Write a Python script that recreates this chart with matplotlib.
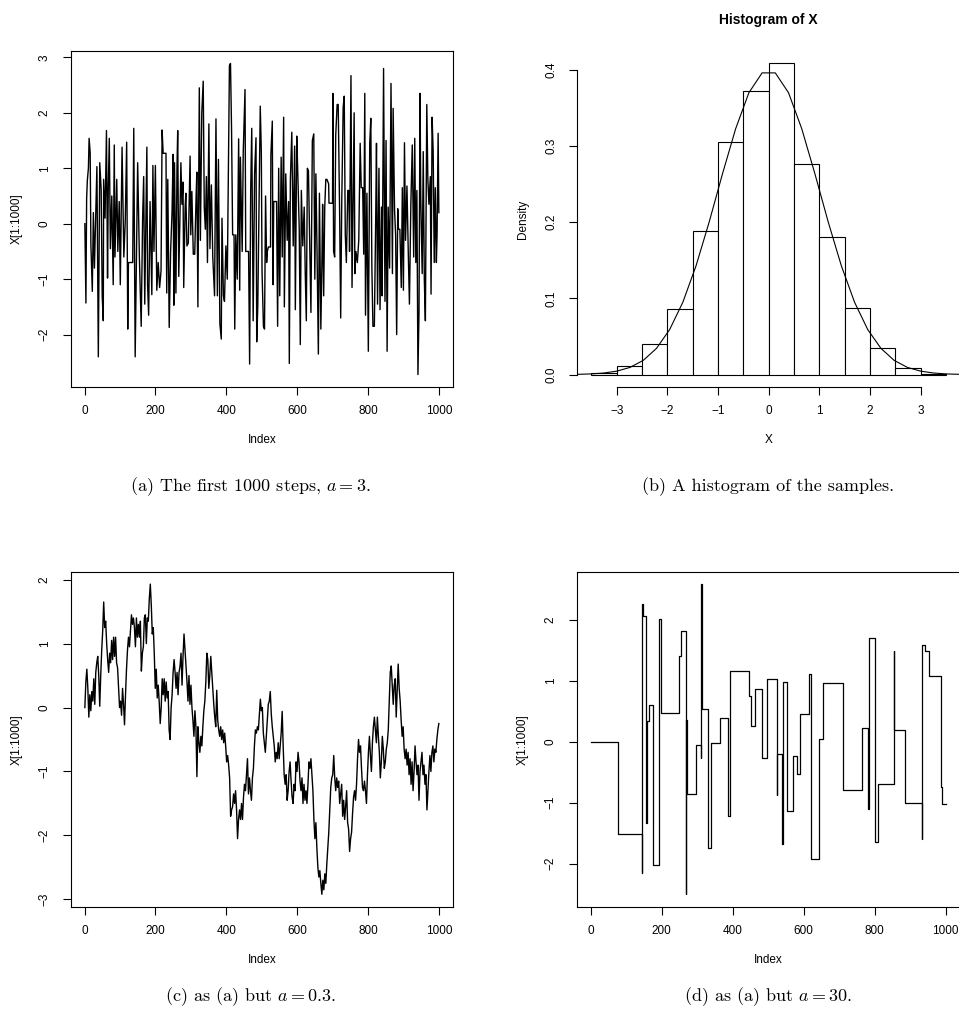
import numpy as np
import matplotlib
matplotlib.use("Agg")
import matplotlib.pyplot as plt

plt.rcParams["font.family"] = ["Liberation Sans", "DejaVu Sans"]
plt.rcParams["mathtext.fontset"] = "cm"

# ---- (a) chain with a = 3: index / value
a_index = [1, 4, 6, 8, 11, 13, 16, 18, 22, 25, 28, 35, 38, 39, 43, 47, 50, 53, 54, 58,
           62, 65, 67, 70, 73, 77, 81, 84, 86, 91, 94, 98, 101, 106, 111, 115, 119, 122, 124, 136,
           139, 143, 147, 150, 155, 160, 164, 167, 170, 176, 178, 181, 185, 190, 193, 196, 200, 204, 208, 212,
           216, 219, 222, 230, 232, 235, 239, 243, 247, 250, 252, 254, 258, 261, 263, 266, 269, 272, 275, 278,
           280, 284, 286, 289, 293, 298, 300, 303, 307, 311, 315, 317, 320, 324, 327, 329, 331, 335, 338, 341,
           344, 347, 351, 354, 358, 362, 367, 371, 375, 378, 382, 386, 388, 392, 395, 399, 403, 407, 409, 412,
           415, 418, 422, 424, 427, 431, 435, 438, 440, 445, 448, 453, 455, 463, 466, 469, 472, 476, 480, 484,
           486, 489, 493, 496, 499, 501, 505, 508, 511, 514, 516, 519, 525, 526, 530, 532, 534, 542, 545, 548,
           551, 555, 558, 562, 564, 568, 572, 576, 578, 581, 585, 589, 593, 595, 599, 602, 606, 609, 612, 616,
           620, 623, 626, 629, 632, 636, 639, 643, 647, 650, 653, 656, 660, 663, 667, 670, 672, 675, 678, 681,
           684, 689, 690, 700, 701, 703, 706, 709, 713, 716, 720, 723, 726, 730, 733, 736, 739, 743, 746, 748,
           752, 755, 758, 761, 763, 766, 770, 774, 778, 781, 785, 788, 791, 793, 797, 801, 805, 808, 811, 814,
           818, 822, 824, 827, 831, 834, 838, 840, 844, 848, 851, 854, 857, 861, 865, 869, 871, 875, 878, 881,
           884, 886, 890, 894, 897, 900, 903, 906, 910, 914, 917, 921, 925, 929, 932, 935, 938, 941, 944, 947,
           949, 953, 956, 959, 962, 966, 969, 972, 976, 978, 981, 984, 987, 990, 993, 995, 998, 1000]
a_value = [0.0, -1.43, 0.45, 0.78, 1.0, 1.54, 1.28, -0.37, -1.22, 0.2, -0.8, 1.03, -1.5, -2.4, 1.1, 0.62, -1.32, -1.75, 0.8, 0.1,
           1.68, -0.98, 0.6, 1.54, -0.45, 0.5, -1.1, 1.42, -0.6, 0.8, -0.5, 0.4, -1.1, 1.38, -0.6, 0.05, 1.47, -1.9, -0.7, -0.7,
           1.72, -2.4, -0.45, 1.1, -0.65, -1.85, 0.1, 0.85, -1.45, 1.38, -1.1, -1.65, 0.4, -1.28, 1.05, -0.5, 1.05, -1.2, -0.7, -1.15,
           -0.85, 1.69, 1.27, 1.27, -1.25, 0.8, -1.87, -0.5, 0.2, 1.25, -1.47, 1.1, -1.25, 1.0, 1.68, -0.95, 0.0, 1.1, 0.35, 0.75,
           -1.15, 0.3, 0.55, -0.4, -0.35, 1.22, -0.2, 0.58, -0.55, -0.55, 0.5, 0.93, -1.5, 2.45, -0.3, 0.9, 2.0, 2.57, 0.3, -0.1,
           0.85, -0.7, 1.8, -0.45, 0.7, -0.6, -1.3, 1.89, -1.3, 1.16, -1.8, -2.08, 0.1, -1.3, -1.4, -0.4, -1.0, 1.5, 2.85, 2.89,
           1.7, -0.2, -0.2, -1.9, -0.2, -1.0, 1.53, -1.2, 1.2, -0.5, 1.3, 2.42, -0.5, -0.5, -2.53, 0.6, 1.72, -1.75, 0.9, 1.55,
           -2.13, -1.5, 0.5, 2.12, 1.3, -0.85, -1.85, -1.9, 0.5, -0.7, -0.5, -0.42, -0.42, 1.24, 1.85, -1.1, 0.4, 0.4, -1.85, 1.0,
           -1.3, 1.2, -0.6, 1.92, -1.5, 0.9, -0.3, 0.4, -2.52, 0.8, 1.65, -0.4, 1.4, -1.55, 1.58, 0.9, -0.1, -2.18, 0.6, -0.4,
           0.3, -0.9, -1.75, 1.0, 0.95, -0.55, -1.6, 1.5, 1.62, -1.0, 0.9, -0.4, -2.35, 0.55, -1.9, -0.7, 0.35, -1.3, 0.3, 0.8,
           0.8, 0.72, 0.37, 0.37, 2.35, -0.5, -0.6, 1.6, 2.15, 2.15, 0.2, -1.7, 0.4, 2.1, 2.3, -0.2, -0.7, 0.6, 0.6, -0.5,
           2.67, -1.15, 0.4, 2.0, -0.9, -0.5, -0.7, -0.3, 1.45, 0.65, 0.65, -0.55, 2.35, -1.65, 0.55, -2.3, 1.45, 1.9, -0.8, -1.85,
           -1.85, 0.2, 1.45, -1.45, 1.0, -1.55, 0.3, -1.3, 2.8, -1.4, 1.5, -2.3, 0.3, -0.8, 2.53, -0.9, 2.08, 0.25, -0.2, -2.0,
           0.27, -0.1, -0.1, -1.15, 0.65, -1.2, 1.46, -0.3, 0.68, -0.6, -1.45, 0.35, 1.42, -0.6, 1.54, -0.7, 0.6, -2.72, -1.6, 2.35,
           0.45, -0.9, 1.3, -1.0, -1.75, 2.15, 0.8, 0.35, 0.85, -1.27, 1.92, 1.3, -0.7, 0.65, -0.7, -0.2, 1.63, 0.2]

# ---- (b) histogram of the samples
hist_edges = [-3.5, -3.0, -2.5, -2.0, -1.5, -1.0, -0.5, 0.0, 0.5, 1.0, 1.5, 2.0, 2.5, 3.0, 3.5]
hist_density = [0.0022, 0.0109, 0.0407, 0.0858, 0.1877, 0.305, 0.3724,
                0.408, 0.2757, 0.1807, 0.0875, 0.035, 0.0092, 0.0013]
curve_y = [0.0003, 0.0008, 0.0020, 0.0045, 0.0094, 0.0186, 0.0343, 0.0590, 0.0949, 0.1427,
           0.2005, 0.2632, 0.3225, 0.3696, 0.3956, 0.3956, 0.3696, 0.3225, 0.2632, 0.2005,
           0.1427, 0.0949, 0.0590, 0.0343, 0.0186, 0.0094, 0.0045, 0.0020, 0.0008, 0.0003]

# ---- (c) chain with a = 0.3
c_value = [0.0, 0.4, 0.6, 0.3, -0.15, 0.2, -0.05, 0.25, 0.1, 0.45, 0.05, 0.55, 0.7, 0.8, 0.5, 0.02, 0.5, 0.9, 1.2, 1.65,
           1.25, 1.35, 1.0, 0.75, 0.55, 0.85, 0.7, 1.05, 0.75, 1.1, 0.8, 1.1, 0.7, 0.62, 0.3, 0.0, 0.1, -0.12, 0.3, 0.05,
           -0.27, 0.2, 0.6, 0.9, 1.1, 0.95, 1.2, 1.45, 1.3, 1.4, 1.25, 0.95, 1.4, 1.1, 1.3, 1.1, 1.35, 0.57, 0.85, 0.95,
           1.4, 1.45, 1.0, 1.4, 1.35, 1.7, 1.93, 1.6, 1.15, 1.25, 0.85, 0.3, 0.6, 0.15, 0.35, 0.08, -0.25, 0.0, 0.45, 0.2,
           0.45, 0.1, 0.4, 0.15, 0.25, -0.35, -0.5, 0.0, 0.2, 0.55, 0.75, 0.55, 0.3, 0.55, 0.2, 0.55, 0.65, 0.85, 0.35, 0.8,
           1.15, 0.9, 0.65, 0.4, 0.1, 0.5, 0.05, 0.35, 0.0, -0.2, -0.45, -0.05, -0.3, -1.08, -0.3, -0.55, -0.7, -0.45, -0.6, -0.3,
           -0.05, 0.1, 0.4, 0.85, 0.75, 0.3, 0.5, 0.8, 0.55, 0.3, 0.05, -0.15, -0.3, 0.27, -0.2, -0.35, -0.45, -0.3, -0.5, -0.35,
           -0.55, -0.4, -0.6, -0.85, -0.75, -0.9, -1.1, -1.7, -1.6, -1.55, -1.35, -1.5, -1.3, -1.6, -2.05, -1.75, -1.6, -1.75, -1.5, -1.75,
           -1.4, -1.2, -1.3, -1.05, -0.8, -1.35, -1.1, -1.3, -1.45, -1.1, -0.95, -0.6, -0.35, -0.4, -0.3, -0.35, -0.1, 0.13, -0.05, 0.0,
           -0.4, -0.55, -0.7, -0.45, -0.2, 0.05, 0.1, 0.25, -0.1, -0.3, -0.45, -0.6, -0.85, -0.7, -0.8, -0.55, -0.8, -0.6, -0.4, -0.06,
           -0.6, -1.05, -1.2, -1.05, -1.45, -1.3, -1.0, -0.85, -1.15, -1.4, -1.5, -1.2, -1.3, -0.85, -1.0, -0.7, -0.85, -1.15, -1.3, -1.1,
           -1.5, -1.2, -1.45, -1.3, -1.5, -1.2, -0.85, -0.95, -0.8, -1.05, -1.3, -1.75, -2.05, -1.8, -2.2, -2.5, -2.65, -2.55, -2.75, -2.92,
           -2.7, -2.85, -2.6, -2.75, -2.45, -2.2, -1.95, -1.6, -1.25, -1.1, -1.05, -0.75, -1.1, -1.3, -1.1, -1.25, -1.15, -1.5, -1.35, -1.2,
           -1.7, -1.45, -1.75, -1.55, -1.3, -1.8, -1.9, -2.25, -2.05, -1.95, -1.65, -1.4, -1.3, -1.45, -1.2, -0.8, -0.5, -0.7, -0.6, -0.95,
           -1.25, -1.3, -1.15, -1.3, -1.5, -1.05, -0.7, -0.45, -0.75, -1.0, -0.55, -0.3, -0.15, -0.35, -0.55, -0.15, -0.45, -0.7, -1.1, -0.85,
           -0.45, -0.65, -0.95, -0.85, -0.65, -0.55, -0.35, 0.1, 0.55, 0.65, 0.35, 0.05, 0.35, 0.45, -0.15, 0.25, 0.68, 0.3, 0.1, -0.2,
           -0.45, -0.3, -0.65, -0.8, -0.65, -0.9, -0.7, -1.05, -0.8, -1.2, -0.85, -1.3, -1.0, -0.6, -0.85, -1.05, -0.9, -1.45, -1.0, -0.85,
           -0.7, -1.05, -0.9, -1.2, -1.05, -1.6, -1.3, -1.0, -0.75, -1.0, -0.7, -0.6, -0.85, -0.65, -0.7, -0.5, -0.35, -0.25]

# ---- (d) chain with a = 30: step where the value changes, and the value held
d_start = [1, 78, 144, 145, 148, 157, 158, 164, 176, 192, 199, 250, 254, 268, 269, 270, 298, 310, 312, 313,
           331, 339, 365, 388, 392, 446, 451, 463, 482, 496, 524, 525, 539, 541, 554, 569, 580, 589, 614, 620,
           643, 655, 711, 764, 782, 783, 802, 808, 854, 855, 884, 933, 934, 942, 954, 988, 989]
d_level = [0.0, -1.52, -2.15, 2.25, 2.06, -1.33, 0.33, 0.60, -2.02, 2.01, 0.47, 1.40, 1.82, -2.50, 0.35, -0.85, -0.06, -0.27, 2.58, 0.53,
           -1.75, -0.03, 0.38, -1.22, 1.16, 0.75, 0.25, 0.86, -0.27, 1.02, -0.88, -0.20, -1.67, 0.98, -1.13, -0.23, -0.53, 0.45, 1.11, -1.92,
           0.04, 0.96, -0.80, 0.23, -1.10, 1.70, -1.65, -0.69, 1.48, 0.19, -1.01, -1.60, 1.59, 1.49, 1.07, -0.75, -1.02]

idx_ticks = [0, 200, 400, 600, 800, 1000]
captions = [r"(a) The first 1000 steps, $a = 3$.",
            r"(b) A histogram of the samples.",
            r"(c) as (a) but $a = 0.3$.",
            r"(d) as (a) but $a = 30$."]

W, H = 959, 1025
fig = plt.figure(figsize=(W / 100, H / 100), dpi=100)


def px_axes(left, top, right, bottom):
    return fig.add_axes([left / W, 1 - bottom / H, (right - left) / W, (bottom - top) / H])


def r_style(ax, xlabel, ylabel, box=True):
    ax.tick_params(direction="out", length=5.5, width=0.8, labelsize=8.5, pad=7.5, colors="black")
    ax.tick_params(axis="y", labelrotation=90, pad=9)
    for lab in ax.get_yticklabels():
        lab.set_va("center")
    for sp in ax.spines.values():
        sp.set_linewidth(0.8)
        sp.set_color("black")
    if not box:
        ax.spines["top"].set_visible(False)
        ax.spines["right"].set_visible(False)
    ax.set_xlabel(xlabel, fontsize=8.5)
    ax.set_ylabel(ylabel, fontsize=8.5)
    ax.xaxis.set_label_coords(0.5, -53 / 336)
    ax.xaxis.label.set_va("center")
    ax.yaxis.set_label_coords(-54 / 382, 0.5)
    ax.yaxis.label.set_va("center")


# (a)
ax = px_axes(70.7, 51, 453, 387)
ax.plot(a_index, a_value, color="black", lw=1.0)
ax.margins(0.04)
ax.set_xticks(idx_ticks)
ax.set_yticks([-2, -1, 0, 1, 2, 3])
ax.set_yticklabels(["\u22122", "\u22121", "0", "1", "2", "3"])
r_style(ax, "Index", "X[1:1000]")

# (b)
ax = px_axes(577.2, 51, 960.2, 387)
widths = np.diff(hist_edges)
ax.bar(hist_edges[:-1], hist_density, width=widths, align="edge",
       facecolor="white", edgecolor="black", linewidth=0.8)
ax.plot(np.linspace(-3.78, 3.78, len(curve_y)), curve_y, color="black", lw=0.8)
ax.set_xlim(-3.78, 3.78)
ax.set_ylim(-0.0163, 0.4243)
ax.set_xticks([-3, -2, -1, 0, 1, 2, 3])
ax.set_xticklabels(["\u22123", "\u22122", "\u22121", "0", "1", "2", "3"])
ax.set_yticks([0.0, 0.1, 0.2, 0.3, 0.4])
ax.set_yticklabels(["0.0", "0.1", "0.2", "0.3", "0.4"])
r_style(ax, "X", "Density", box=False)
ax.spines["bottom"].set_bounds(-3, 3)
ax.spines["left"].set_bounds(0, 0.4)
ax.text(0.5, 1 + 31 / 336, "Histogram of X", transform=ax.transAxes,
        ha="center", va="center", fontsize=10, fontweight="bold")

# (c)
ax = px_axes(70.7, 571.7, 453, 906.7)
ax.plot(np.linspace(1, 1000, len(c_value)), c_value, color="black", lw=1.0)
ax.margins(0.04)
ax.set_xticks(idx_ticks)
ax.set_yticks([-3, -2, -1, 0, 1, 2])
ax.set_yticklabels(["\u22123", "\u22122", "\u22121", "0", "1", "2"])
r_style(ax, "Index", "X[1:1000]")

# (d)
ax = px_axes(576.8, 571.7, 959.9, 906.7)
ax.plot(d_start + [1000], d_level + [d_level[-1]], color="black", lw=0.9, drawstyle="steps-post")
ax.margins(0.04)
ax.set_xticks(idx_ticks)
ax.set_yticks([-2, -1, 0, 1, 2])
ax.set_yticklabels(["\u22122", "\u22121", "0", "1", "2"])
r_style(ax, "Index", "X[1:1000]")

# captions
cap_pos = [(250, 487), (768, 487), (250, 997), (768, 997)]
for (cx, cy), txt in zip(cap_pos, captions):
    fig.text(cx / W, 1 - cy / H, txt, ha="center", va="center",
             fontsize=13, family="cmr10")

fig.savefig("out.png", dpi=100)
